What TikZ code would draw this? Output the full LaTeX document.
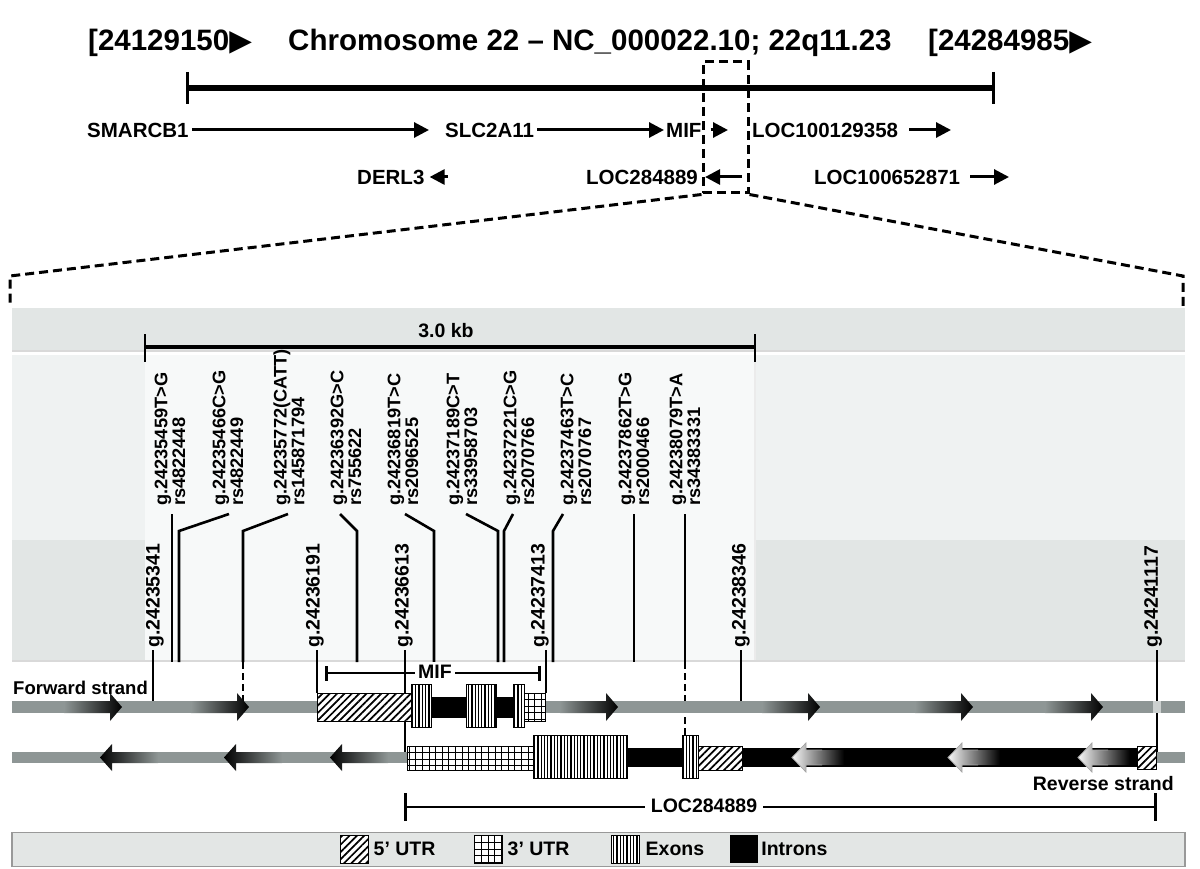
\documentclass[tikz,border=0pt]{standalone}
\usepackage{fontspec}
\setmainfont{Liberation Sans}
\newfontfamily\symfont{DejaVu Sans}
\usetikzlibrary{arrows.meta,patterns.meta}

\definecolor{strandgray}{HTML}{8E9695}
\definecolor{bandgray}{HTML}{E2E6E5}
\definecolor{bandlight}{HTML}{EFF2F2}
\definecolor{panelwhite}{HTML}{F7F9F9}
\definecolor{legendgray}{HTML}{E3E6E5}

\tikzset{
  title/.style={anchor=base west, inner sep=0pt, font=\fontsize{29.5}{29.5}\selectfont\bfseries},
  lbl/.style={anchor=west, inner sep=0pt, font=\fontsize{20.5}{20.5}\selectfont\bfseries},
  small/.style={inner sep=0pt, font=\fontsize{19.5}{19.5}\selectfont\bfseries},
  gene/.style={line width=3pt, -{Triangle[length=15pt,width=15pt]}},
  zoomline/.style={line width=3pt, dash pattern=on 9pt off 5pt},
  snp/.style={rotate=90, anchor=west, align=left, inner sep=0pt, font=\fontsize{18.2}{16.5}\selectfont\bfseries},
  coordlbl/.style={rotate=90, anchor=west, inner sep=0pt, font=\fontsize{19.5}{19.5}\selectfont\bfseries},
  leader/.style={line width=2.6pt},
  utrfive/.style={draw, line width=1pt, preaction={fill=white}, pattern={Lines[angle=45,distance=5.2pt,line width=1.7pt]}},
  utrthree/.style={draw, line width=1pt, fill=white, path picture={
      \draw[line width=0.9pt] ([shift={(-7pt,-7pt)}]path picture bounding box.south west)
        grid[step=6.6pt] ([shift={(7pt,7pt)}]path picture bounding box.north east);}},
  exon/.style={draw, line width=1pt, preaction={fill=white}, pattern={Lines[angle=90,distance=3.3pt,line width=1.3pt]}},
  key/.style={minimum width=28pt, minimum height=28pt, inner sep=0pt},
}

\begin{document}
\begin{tikzpicture}[x=1pt,y=-1pt]
\useasboundingbox (0,0) rectangle (1200,869);

% chromosome header
\node[title] (startpos) at (88,51) {[24129150{\symfont ▶}};
\node[title] (chrom) at (288,51) {Chromosome 22 – NC\_000022.10; 22q11.23};
\node[title] (endpos) at (928,51) {[24284985{\symfont ▶}};

\coordinate (chrL) at (187,88);
\coordinate (chrR) at (993,88);
\draw[line width=6pt] (chrL) -- (chrR);
\draw[line width=3pt] (chrL) ++(0,-16) -- ++(0,32);
\draw[line width=3pt] (chrR) ++(0,-16) -- ++(0,32);

% genes in the region
\node[lbl] (smarcb1) at (87,130) {SMARCB1};
\node[lbl] (slc2a11) at (445,130) {SLC2A11};
\node[lbl] (mif) at (666,130) {MIF};
\node[lbl] (loc100129358) at (752,130) {LOC100129358};
\node[lbl] (derl3) at (357,177) {DERL3};
\node[lbl] (loc284889) at (586,177) {LOC284889};
\node[lbl] (loc100652871) at (814,177) {LOC100652871};

\coordinate (smarcb1end) at (429,130);
\coordinate (slc2a11end) at (664,130);
\coordinate (mifend) at (728,130);
\coordinate (loc100129358end) at (951,130);
\coordinate (derl3start) at (448,177);
\coordinate (loc284889start) at (742,177);
\coordinate (loc100652871end) at (1009,177);
\draw[gene] ([xshift=3pt]smarcb1.east) -- (smarcb1end);
\draw[gene] ([xshift=3pt]slc2a11.east) -- (slc2a11end);
\draw[gene] ([xshift=9pt]mif.east) -- (mifend);
\draw[gene] ([xshift=11pt]loc100129358.east) -- (loc100129358end);
\draw[gene] (derl3start) -- ([xshift=5pt]derl3.east);
\draw[gene] (loc284889start) -- ([xshift=7pt]loc284889.east);
\draw[gene] ([xshift=10pt]loc100652871.east) -- (loc100652871end);

% zoom box
\node[draw, zoomline, minimum width=45pt, minimum height=131pt, inner sep=0pt] (zoombox) at (725.5,127.5) {};
\coordinate (zl) at (10,276);
\coordinate (zlb) at (10,306);
\coordinate (zr) at (1183,276);
\coordinate (zrb) at (1183,306);
\draw[zoomline] (zoombox.south west) -- (zl) -- (zlb);
\draw[zoomline] (zoombox.south east) -- (zr) -- (zrb);

% panel
\fill[bandgray] (12,308) rectangle (1185,350);
\fill[bandlight] (12,355) rectangle (1185,540);
\fill[bandgray] (12,540) rectangle (1185,660);
\fill[panelwhite] (145,355) rectangle (754,660);
\draw[black!15, line width=1.5pt] (12,351) -- (1185,351);
\draw[black!15, line width=1.5pt] (12,661) -- (1185,661);
\draw[black!8, line width=1.5pt] (755,356) -- (755,660);

\coordinate (kbL) at (145,347);
\coordinate (kbR) at (755,347);
\draw[line width=4pt] (kbL) -- (kbR);
\draw[line width=2.5pt] (kbL) ++(0,-13) -- ++(0,28);
\draw[line width=2.5pt] (kbR) ++(0,-13) -- ++(0,28);
\node[small] (kb) at (446,331) {3.0 kb};

% variants
\foreach \c/\g/\r/\s/\b [count=\i] in {
  170/{g.24235459T>G}/rs4822448/172/172,
  228/{g.24235466C>G}/rs4822449/229/179,
  289/{g.24235772(CATT)}/rs145871794/288/243,
  346/{g.24236392G>C}/rs755622/340/357,
  403/{g.24236819T>C}/rs2096525/405/434,
  462/{g.24237189C>T}/rs33958703/466/498,
  519/{g.24237221C>G}/rs2070766/513/504,
  576/{g.24237463T>C}/rs2070767/563/553,
  634/{g.24237862T>G}/rs2000466/634/634,
  685/{g.24238079T>A}/rs34383331/685/685} {
  \node[snp] (s\i) at (\c,506) {\g\\\r};
  \draw[leader] (s\i.west) ++(\s-\c,8) -- (\b,531) -- (\b,662);
}
\coordinate (s3end) at (243,701);
\coordinate (s10end) at (685,735);
\draw[leader, dash pattern=on 7pt off 4pt] (s3.west -| s3end) ++(0,156) -- (s3end);
\draw[leader, dash pattern=on 7pt off 4pt] (s10.west -| s10end) ++(0,156) -- (s10end);

% genomic coordinates
\foreach \c/\g/\s/\e [count=\i] in {
  155/g.24235341/153/701,
  315/g.24236191/317/693,
  404/g.24236613/405/752,
  540/g.24237413/546/693,
  741/g.24238346/741/701,
  1153/g.24241117/1157/755} {
  \node[coordlbl] (p\i) at (\c,648) {\g};
  \draw[leader] (p\i.west) ++(\s-\c,2) -- (\s,\e);
}

% forward strand with MIF
\fill[strandgray] (12,701) rectangle (1185,713);
\foreach \tip in {122,249,618,820,973,1103} {
  \shade[left color=strandgray, middle color=black!70, right color=black]
    (\tip-58,701) -- (\tip-12,701) -- (\tip-12,693) -- (\tip,707) -- (\tip-12,721) -- (\tip-12,713) -- (\tip-58,713) -- cycle;
}
\fill[strandgray!45] (1153,701) rectangle (1161,713);
\fill (431,697) rectangle (545,718);
\draw[utrfive] (317,693) rectangle (411,721);
\draw[exon] (411,684) rectangle (431,727);
\draw[exon] (466,684) rectangle (496,727);
\draw[exon] (513,684) rectangle (524,727);
\draw[utrthree] (524,693) rectangle (545,721);

% reverse strand with LOC284889
\fill[strandgray] (12,752) rectangle (407,763);
\fill[strandgray] (1156,752) rectangle (1185,763);
\foreach \tip in {100,224,330} {
  \shade[left color=black, middle color=black!70, right color=strandgray]
    (\tip,757.5) -- (\tip+12,744) -- (\tip+12,752) -- (\tip+58,752) -- (\tip+58,763) -- (\tip+12,763) -- (\tip+12,771) -- cycle;
}
\fill (530,748) rectangle (1140,767);
\foreach \tip in {792,948,1078} {
  \shade[left color=gray!5, middle color=gray!40, right color=black]
    (\tip,757.5) -- (\tip+14,743) -- (\tip+14,750) -- (\tip+52,750) -- (\tip+52,765) -- (\tip+14,765) -- (\tip+14,772) -- cycle;
  \draw[gray!70, line width=0.8pt]
    (\tip+30,750) -- (\tip+14,750) -- (\tip+14,743) -- (\tip,757.5) -- (\tip+14,772) -- (\tip+14,765) -- (\tip+30,765);
}
\draw[utrthree] (407,746) rectangle (533,770);
\draw[exon] (533,735) rectangle (627,778);
\draw[exon] (682,735) rectangle (698,778);
\draw[utrfive] (698,746) rectangle (742,770);
\draw[utrfive] (1137,746) rectangle (1156,769);

\node[small, anchor=west, font=\fontsize{18.5}{18.5}\selectfont\bfseries] (fwd) at (13,688) {Forward strand};
\node[small, anchor=east] (rev) at (1174,784) {Reverse strand};

% gene spans
\coordinate (mifL) at (325,673);
\coordinate (mifR) at (541,673);
\draw[leader, {Bar[width=15pt]}-{Bar[width=15pt]}] (mifL) -- (mifR);
\node[small, fill=white, inner sep=3pt] (mifspan) at (435,672) {MIF};
\coordinate (locL) at (404,807);
\coordinate (locR) at (1157,807);
\draw[leader, {Bar[width=28pt]}-{Bar[width=28pt]}] (locL) -- (locR);
\node[small, fill=white, inner sep=6pt] (locspan) at (704,806) {LOC284889};

% legend
\node[draw=black!40, fill=legendgray, line width=1.5pt, minimum width=1173pt, minimum height=34pt, inner sep=0pt] (legend) at (598.5,849.5) {};
\node[key, utrfive] (k1) at (354,849) {};
\node[small, anchor=west] at ([xshift=5pt]k1.east) {5’ UTR};
\node[key, utrthree] (k2) at (488,849) {};
\node[small, anchor=west] at ([xshift=5pt]k2.east) {3’ UTR};
\node[key, exon] (k3) at (625,849) {};
\node[small, anchor=west] at ([xshift=6pt]k3.east) {Exons};
\node[key, fill=black] (k4) at (744,849) {};
\node[small, anchor=west] at ([xshift=3pt]k4.east) {Introns};
\end{tikzpicture}
\end{document}
